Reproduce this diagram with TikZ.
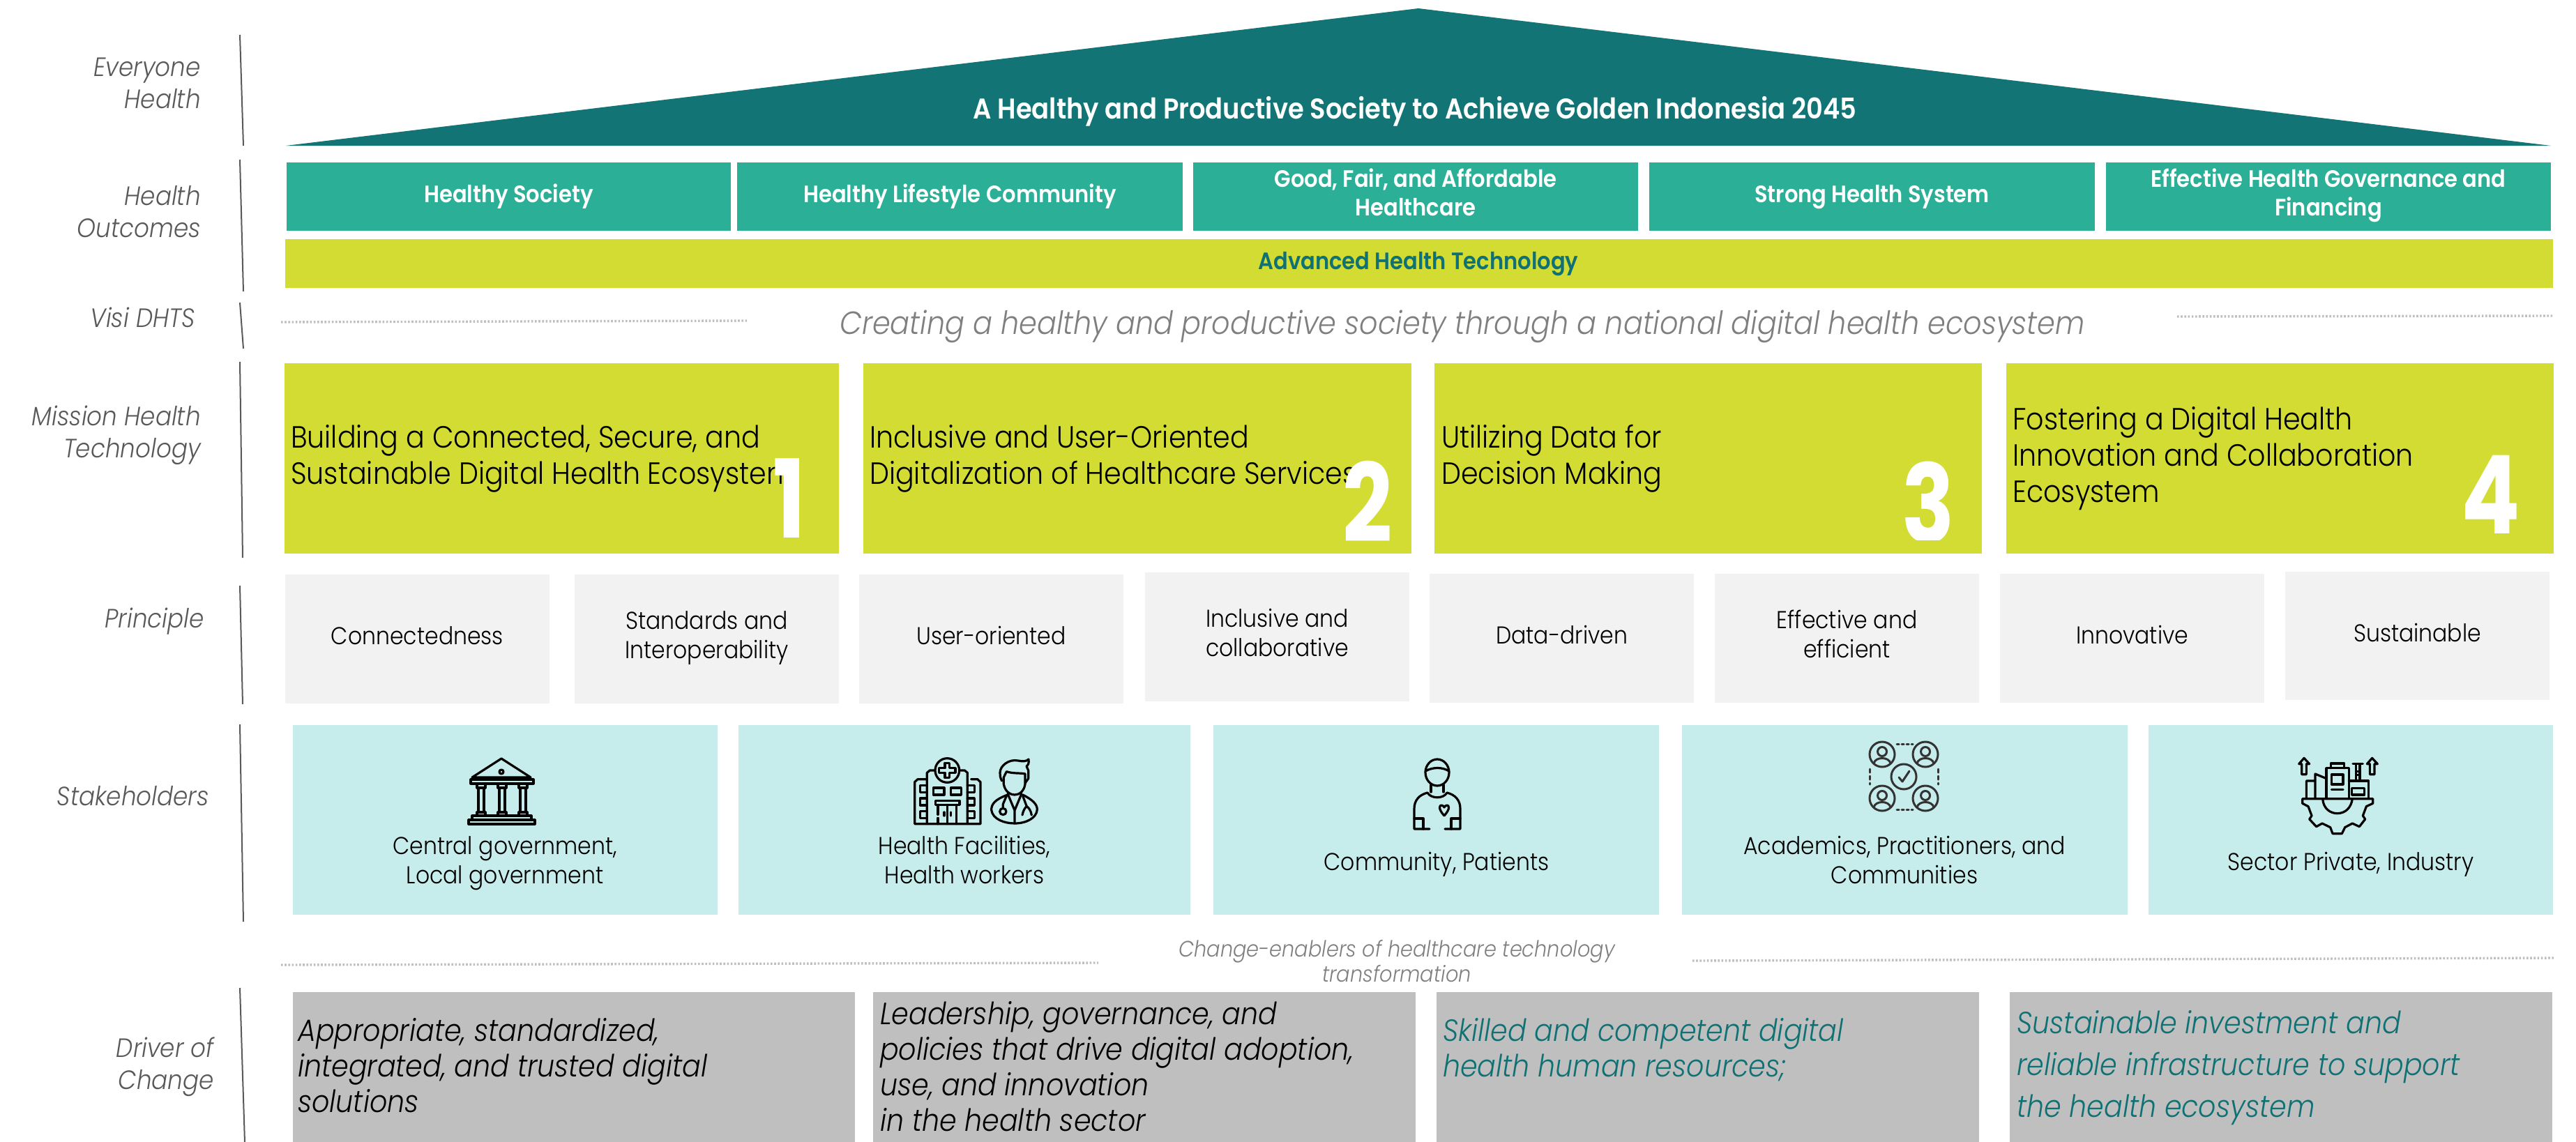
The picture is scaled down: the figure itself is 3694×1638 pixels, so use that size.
\documentclass[tikz,border=0pt]{standalone}
\usepackage{fontspec}
\setmainfont{Poppins Light}[ItalicFont={Poppins Light Italic},BoldFont={Poppins SemiBold},FakeStretch=0.9]
\newfontfamily\digitfont{Poppins}[UprightFont=*-Bold,FakeStretch=0.8]
\definecolor{deepteal}{HTML}{127475}
\definecolor{midteal}{HTML}{2BAF97}
\definecolor{lime}{HTML}{D2DC33}
\definecolor{lightgr}{HTML}{F2F2F2}
\definecolor{pale}{HTML}{C7ECEC}
\definecolor{midgr}{HTML}{BFBFBF}
\definecolor{lab}{HTML}{595959}
\definecolor{visi}{HTML}{7F7F7F}
\definecolor{tealtx}{HTML}{0F7173}
\newcommand{\fs}[2]{\fontsize{#1}{#2}\selectfont}
\newcommand{\bx}[6]{\pgfmathsetmacro\bw{#4-#2}\pgfmathsetmacro\bh{#5-#3}%
  \node[#6,minimum width=\bw pt,minimum height=\bh pt,inner sep=0pt,outer sep=0pt,anchor=north west] (#1) at (#2,#3) {};}
\tikzset{
  txt/.style={inner sep=0pt,execute at begin node=\strut,execute at end node=\strut},
  rowlab/.style={txt,anchor=east,align=right,text=lab,font=\fs{38}{46}\itshape},
  hdrtx/.style={txt,align=center,text=white,font=\fs{34}{41}\bfseries},
  prtx/.style={txt,align=center,text=black,font=\fs{35}{42}},
  sttx/.style={txt,align=center,text=black,font=\fs{35}{42}},
  mistx/.style={txt,anchor=west,align=left,text=black,font=\fs{44}{52}},
  drvtx/.style={txt,anchor=west,align=left,text=black,font=\fs{44}{51}\itshape},
  drvtl/.style={drvtx,text=tealtx},
  numtx/.style={inner sep=0pt,anchor=base,text=white,font=\digitfont\fs{156}{160}},
  teal/.style={fill=midteal},
  limebox/.style={fill=lime},
  prbox/.style={fill=lightgr},
  stbox/.style={fill=pale},
  drbox/.style={fill=midgr},
  rule/.style={draw=lab,line width=2pt},
  dots/.style={draw=midgr,line width=3.4pt,dash pattern=on 2.6pt off 2.6pt},
  icon/.style={draw=black,line width=3.2pt,line cap=round,line join=round},
  icong/.style={draw=black!80,line width=3pt,line cap=round,line join=round},
}
\begin{document}
\begin{tikzpicture}[x=1pt,y=-1pt]
\useasboundingbox (0,0) rectangle (3694,1638);
% roof
\fill[deepteal] (410,209) -- (2034,12) -- (3658,209) -- cycle;
\node[txt,text=white,font=\fs{41}{50}\bfseries] (title) at (2029,160) {A Healthy and Productive Society to Achieve Golden Indonesia 2045};
% row rules
\coordinate (r1a) at (344,50);\coordinate (r1b) at (349,209);
\coordinate (r2a) at (344,229);\coordinate (r2b) at (349,418);
\coordinate (r3a) at (344,434);\coordinate (r3b) at (349,500);
\coordinate (r4a) at (344,519);\coordinate (r4b) at (348,800);
\coordinate (r5a) at (344,840);\coordinate (r5b) at (348,1010);
\coordinate (r6a) at (344,1039);\coordinate (r6b) at (349,1322);
\coordinate (r7a) at (344,1417);\coordinate (r7b) at (351,1638);
\foreach \i in {1,...,7} {\draw[rule] (r\i a) -- (r\i b);}
% row labels
\node[rowlab] (l1) at (288,126) {Everyone\\Health};
\node[rowlab] (l2) at (288,310) {Health\\Outcomes};
\node[rowlab] (l3) at (280,460) {Visi DHTS};
\node[rowlab] (l4) at (288,626) {Mission Health\\Technology};
\node[rowlab] (l5) at (293,891) {Principle};
\node[rowlab] (l6) at (300,1146) {Stakeholders};
\node[rowlab] (l7) at (307,1532) {Driver of\\Change};
% outcomes
\bx{o1}{411}{233}{1048}{331}{teal}
\bx{o2}{1057}{233}{1696}{331}{teal}
\bx{o3}{1711}{233}{2349}{331}{teal}
\bx{o4}{2365}{233}{3004}{331}{teal}
\bx{o5}{3020}{233}{3658}{331}{teal}
\node[hdrtx] at (o1) {Healthy Society};
\node[hdrtx] at (o2) {Healthy Lifestyle Community};
\node[hdrtx] at (o3) {Good, Fair, and Affordable\\Healthcare};
\node[hdrtx] at (o4) {Strong Health System};
\node[hdrtx] at (o5) {Effective Health Governance and\\Financing};
\bx{adv}{409}{343}{3661}{413}{limebox}
\node[txt,text=tealtx,font=\fs{34}{41}\bfseries] (advt) at (2034,378) {Advanced Health Technology};
% vision
\coordinate (d1a) at (403,462);\coordinate (d1b) at (1072,460);
\coordinate (d2a) at (3122,454);\coordinate (d2b) at (3660,453);
\draw[dots] (d1a) -- (d1b);
\draw[dots] (d2a) -- (d2b);
\node[txt,text=visi,font=\fs{46}{56}\itshape] (vis) at (2097,468) {Creating a healthy and productive society through a national digital health ecosystem};
% mission
\bx{m1}{408}{521}{1203}{794}{limebox}
\bx{m2}{1238}{521}{2024}{794}{limebox}
\bx{m3}{2057}{521}{2842}{794}{limebox}
\bx{m4}{2877}{521}{3662}{794}{limebox}
\node[mistx] (mt1) at (417,660) {Building a Connected, Secure, and\\Sustainable Digital Health Ecosystem};
\node[mistx] (mt2) at (1247,660) {Inclusive and User-Oriented\\Digitalization of Healthcare Services};
\node[mistx] (mt3) at (2067,660) {Utilizing Data for\\Decision Making};
\node[mistx] (mt4) at (2886,660) {Fostering a Digital Health\\Innovation and Collaboration\\Ecosystem};
\begin{scope}
\clip (2000,500) rectangle (2860,774);
\node[numtx] (n3) at (2765,778) {3};
\end{scope}
\node[numtx] (n1) at (1132,771) {1};
\node[numtx] (n2) at (1961,777) {2};
\node[numtx] (n4) at (3572,765) {4};
% principles
\bx{p1}{409}{824}{788}{1009}{prbox}
\bx{p2}{824}{824}{1203}{1009}{prbox}
\bx{p3}{1232}{824}{1611}{1009}{prbox}
\bx{p4}{1642}{821}{2021}{1006}{prbox}
\bx{p5}{2050}{823}{2429}{1008}{prbox}
\bx{p6}{2459}{823}{2838}{1008}{prbox}
\bx{p7}{2868}{823}{3247}{1008}{prbox}
\bx{p8}{3277}{820}{3656}{1004}{prbox}
\node[prtx] at (p1) {Connectedness};
\node[prtx] at (p2) {Standards and\\Interoperability};
\node[prtx] at (p3) {User-oriented};
\node[prtx] at (p4) {Inclusive and\\collaborative};
\node[prtx] at (p5) {Data-driven};
\node[prtx] at (p6) {Effective and\\efficient};
\node[prtx] at (p7) {Innovative};
\node[prtx] at (p8) {Sustainable};
% stakeholders
\bx{s1}{420}{1040}{1029}{1312}{stbox}
\bx{s2}{1059}{1040}{1707}{1312}{stbox}
\bx{s3}{1740}{1040}{2379}{1312}{stbox}
\bx{s4}{2412}{1040}{3051}{1312}{stbox}
\bx{s5}{3081}{1040}{3661}{1312}{stbox}
\node[sttx] (st1) at (724,1240) {Central government,\\Local government};
\node[sttx] (st2) at (1383,1240) {Health Facilities,\\Health workers};
\node[sttx] (st3) at (2060,1240) {Community, Patients};
\node[sttx] (st4) at (2731,1240) {Academics, Practitioners, and\\Communities};
\node[sttx] (st5) at (3371,1240) {Sector Private, Industry};
% bank icon
\begin{scope}[icon]
\draw (719,1088) -- (677,1115) -- (761,1115) -- cycle;
\draw (719,1107) circle (3);
\draw (675,1118) rectangle (765,1124);
\foreach \c in {690,720,750} {
  \draw (\c-6,1124) rectangle (\c+6,1130);
  \draw (\c-4,1130) -- (\c-4,1165) (\c+4,1130) -- (\c+4,1165);
  \draw (\c-6,1165) rectangle (\c+6,1170);
}
\draw (677,1170) rectangle (762,1176);
\draw (672,1176) rectangle (767,1182);
\end{scope}
% hospital + doctor icon
\begin{scope}[shift={(1290,1075)},x=.3333pt,y=-.3333pt,icon]
\draw (118,128) -- (78,128) -- (65,140) -- (65,320) -- (348,320) -- (348,140) -- (335,128) -- (308,128);
\draw (118,320) -- (118,100) -- (130,90) -- (152,90) (258,90) -- (280,90) -- (292,100) -- (292,320);
\draw (205,90) circle (52);
\draw (195,58) -- (215,58) -- (215,80) -- (240,80) -- (240,100) -- (215,100) -- (215,122) -- (195,122) -- (195,100) -- (170,100) -- (170,80) -- (195,80) -- cycle;
\draw (145,165) rectangle (192,195) (220,165) rectangle (265,195);
\draw (155,220) rectangle (258,238);
\draw (165,238) -- (165,280) (165,295) -- (165,320) (205,238) -- (205,320) (245,238) -- (245,320);
\draw (192,270) -- (192,285) (220,270) -- (220,285);
\foreach \t in {155,210,265} {
  \draw (118,\t) -- (88,\t) -- (88,\t+30) -- (118,\t+30);
  \draw (292,\t) -- (322,\t) -- (322,\t+30) -- (292,\t+30);
}
\draw (448,120) -- (448,150) .. controls (455,185) and (480,195) .. (495,195) .. controls (515,195) and (535,180) .. (540,150) -- (540,105);
\draw (440,135) .. controls (432,120) and (432,110) .. (432,100) .. controls (432,70) and (470,40) .. (510,48) .. controls (530,52) and (545,52) .. (555,42) .. controls (558,60) and (552,68) .. (546,72) -- (554,90) -- (554,125) -- (540,145);
\draw (448,120) -- (460,95) .. controls (490,105) and (520,100) .. (540,105);
\draw (465,195) .. controls (410,215) and (395,235) .. (395,260) .. controls (400,300) and (450,318) .. (495,318) .. controls (545,318) and (590,295) .. (592,258) .. controls (592,235) and (570,215) .. (530,195);
\draw (465,190) -- (495,262) -- (525,190) (495,262) -- (495,318);
\draw (460,200) -- (445,235) -- (445,253);
\draw (445,267) circle (14);
\draw (530,200) -- (547,245);
\draw (528,282) .. controls (532,262) and (540,250) .. (547,245) .. controls (555,250) and (565,262) .. (568,282);
\end{scope}
% person icon
\begin{scope}[icon]
\draw (2061,1108) ellipse (17 and 19);
\draw (2044,1106) .. controls (2055,1100) and (2068,1100) .. (2078,1106);
\draw (2052,1126) -- (2052,1136) (2070,1126) -- (2070,1136);
\draw (2047,1137) .. controls (2052,1146) and (2070,1146) .. (2075,1137);
\draw (2047,1137) .. controls (2035,1140) and (2028,1148) .. (2028,1160) -- (2028,1189) -- (2050,1189);
\draw (2075,1137) .. controls (2087,1140) and (2094,1148) .. (2094,1160) -- (2094,1189) -- (2072,1189);
\draw (2028,1174) -- (2041,1174) -- (2041,1189) (2094,1174) -- (2081,1174) -- (2081,1189);
\draw (2071,1170) .. controls (2062,1160) and (2064,1155) .. (2067,1155) .. controls (2069,1155) and (2071,1157) .. (2071,1158) .. controls (2071,1157) and (2073,1155) .. (2075,1155) .. controls (2078,1155) and (2080,1160) .. (2071,1170);
\end{scope}
% network icon
\begin{scope}[icong]
\foreach \a/\b in {2699/1082,2761/1082,2699/1145,2761/1145} {
  \draw (\a,\b) circle (18);
  \draw (\a,\b-4) circle (6.5);
  \draw (\a-12,\b+13) .. controls (\a-10,\b+3) and (\a+10,\b+3) .. (\a+12,\b+13);
}
\draw (2730,1114) circle (18);
\draw (2723,1115) -- (2728,1121) -- (2738,1106);
\draw[dash pattern=on 3pt off 4pt] (2720,1067) -- (2743,1067) (2720,1161) -- (2743,1161);
\draw[dash pattern=on 5pt off 5pt] (2681,1103) -- (2681,1125) (2779,1103) -- (2779,1125);
\end{scope}
% factory icon
\begin{scope}[shift={(3280,1075)},x=.3333pt,y=-.3333pt,icon]
\draw (72,37) -- (95,62) -- (82,62) -- (82,107) -- (62,107) -- (62,62) -- (50,62) -- cycle;
\draw (365,37) -- (388,62) -- (375,62) -- (375,107) -- (355,107) -- (355,62) -- (343,62) -- cycle;
\draw (65,212) -- (65,232) -- (90,245) -- (105,285) -- (95,300) -- (125,332) -- (150,318) -- (185,335) -- (195,362) -- (235,362) -- (248,335) -- (280,318) -- (310,332) -- (335,300) -- (325,285) -- (340,245) -- (368,232) -- (368,212) -- cycle;
\draw (152,212) .. controls (155,255) and (185,275) .. (215,275) .. controls (250,275) and (275,250) .. (280,212);
\draw (168,210) -- (168,80) -- (265,80) -- (265,210);
\draw (187,80) -- (187,60) -- (245,60) -- (245,80);
\draw (190,108) rectangle (240,150);
\draw (190,173) -- (240,173);
\draw (168,125) -- (120,105) -- (120,210) (120,135) -- (82,135) -- (82,210);
\draw (265,135) -- (350,135) -- (350,210);
\draw (278,167) rectangle (332,195);
\draw (282,62) -- (325,62) (295,62) -- (295,135) (312,62) -- (312,135) (295,95) -- (312,95) (295,110) -- (312,110);
\end{scope}
% enablers
\coordinate (d3a) at (403,1384);\coordinate (d3b) at (1575,1381);
\coordinate (d4a) at (2427,1378);\coordinate (d4b) at (3662,1374);
\draw[dots] (d3a) -- (d3b);
\draw[dots] (d4a) -- (d4b);
\begin{scope}
\clip (1500,1340) rectangle (2500,1408);
\node[txt,align=center,text=visi,font=\fs{32}{36}\itshape] (enab) at (2003,1384) {Change-enablers of healthcare technology\\transformation};
\end{scope}
% drivers
\bx{v1}{420}{1423}{1226}{1638}{drbox}
\bx{v2}{1252}{1423}{2030}{1638}{drbox}
\bx{v3}{2060}{1423}{2838}{1638}{drbox}
\bx{v4}{2882}{1423}{3660}{1638}{drbox}
\node[drvtx] (vt1) at (427,1536) {Appropriate, standardized,\\integrated, and trusted digital\\solutions};
\node[drvtx] (vt2) at (1262,1537) {Leadership, governance, and\\policies that drive digital adoption,\\use, and innovation\\in the health sector};
\node[drvtl] (vt3) at (2069,1510) {Skilled and competent digital\\health human resources;};
\node[drvtl,font=\fs{44}{60}\itshape] (vt4) at (2892,1535) {Sustainable investment and\\reliable infrastructure to support\\the health ecosystem};
\end{tikzpicture}
\end{document}
